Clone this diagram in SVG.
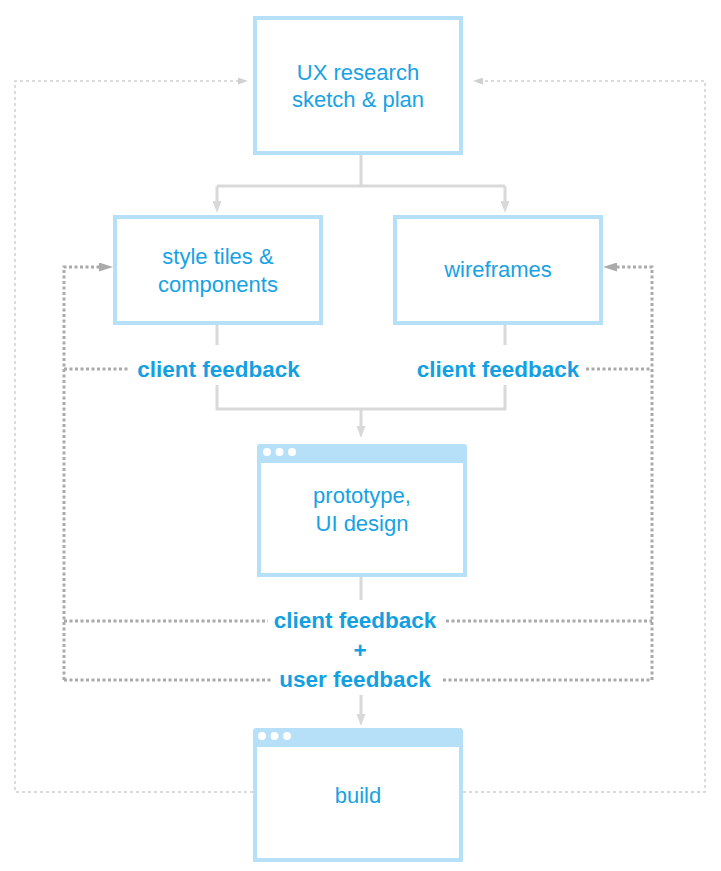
<svg xmlns="http://www.w3.org/2000/svg" width="721" height="871" viewBox="0 0 721 871">
<style>
.box{fill:#fff;stroke:#b5e0f8;stroke-width:4}
.bar{fill:#b5e0f8}
.dot{fill:#fff}
.t{font-family:"Liberation Sans",Arial,sans-serif;font-size:22px;fill:#17a2e4;text-anchor:middle}
.fb{font-family:"Liberation Sans",Arial,sans-serif;font-size:22.5px;font-weight:bold;fill:#13a0e2;text-anchor:middle}
.solid{fill:none;stroke:#d9d9d9;stroke-width:3}
.dark{fill:none;stroke:#aaaaaa;stroke-width:3;stroke-dasharray:3 2.5}
.light{fill:none;stroke:#cfcfcf;stroke-width:1.5;stroke-dasharray:3 3}
</style>
<defs>
<marker id="aSolid" markerUnits="userSpaceOnUse" markerWidth="12" markerHeight="9" refX="0" refY="4.5" orient="auto">
<path d="M0,0 L12,4.5 L0,9 z" fill="#d9d9d9"/>
</marker>
<marker id="aDark" markerUnits="userSpaceOnUse" markerWidth="14" markerHeight="9" refX="0" refY="4.5" orient="auto">
<path d="M0,0 L14,4.5 L0,9 z" fill="#aaaaaa"/>
</marker>
<marker id="aLight" markerUnits="userSpaceOnUse" markerWidth="10" markerHeight="7" refX="0" refY="3.5" orient="auto">
<path d="M0,0 L10,3.5 L0,7 z" fill="#d0d0d0"/>
</marker>
</defs>

<g id="connectors">
<path class="light" d="M253,792 H15 V81 H238" marker-end="url(#aLight)"/>
<path class="light" d="M463,792 H705 V81 H483" marker-end="url(#aLight)"/>
<path class="dark" d="M64,680 V267 H99" marker-end="url(#aDark)"/>
<path class="dark" d="M652,680 V267 H617" marker-end="url(#aDark)"/>
<path class="dark" d="M64,369 H130"/>
<path class="dark" d="M586,369 H652"/>
<path class="dark" d="M64,621 H268"/>
<path class="dark" d="M446,621 H652"/>
<path class="dark" d="M64,680 H272"/>
<path class="dark" d="M443,680 H652"/>
<path class="solid" d="M361,155 V186"/>
<path class="solid" d="M217,186 H505"/>
<path class="solid" d="M217,186 V201" marker-end="url(#aSolid)"/>
<path class="solid" d="M505,186 V201" marker-end="url(#aSolid)"/>
<path class="solid" d="M217,325 V345"/>
<path class="solid" d="M505,325 V345"/>
<path class="solid" d="M217,385 V409 H505 V385"/>
<path class="solid" d="M361,409 V426" marker-end="url(#aSolid)"/>
<path class="solid" d="M361,577 V600"/>
<path class="solid" d="M361,695 V714" marker-end="url(#aSolid)"/>
</g>

<g id="labels">
<text class="fb" x="218.5" y="377">client feedback</text>
<text class="fb" x="498" y="377">client feedback</text>
<text class="fb" x="355" y="628">client feedback</text>
<text class="fb" x="360" y="658">+</text>
<text class="fb" x="355" y="687">user feedback</text>
</g>

<g id="ux-research">
<rect class="box" x="255" y="18" width="206" height="135"/>
<text class="t" x="358" y="80">UX research</text>
<text class="t" x="358" y="107">sketch &amp; plan</text>
</g>

<g id="style-tiles">
<rect class="box" x="115" y="217" width="206" height="106"/>
<text class="t" x="218" y="264">style tiles &amp;</text>
<text class="t" x="218" y="292">components</text>
</g>

<g id="wireframes">
<rect class="box" x="395" y="217" width="206" height="106"/>
<text class="t" x="498" y="277">wireframes</text>
</g>

<g id="prototype">
<path class="bar" d="M257,462 V447 Q257,444 260,444 H464 Q467,444 467,447 V462 z"/>
<circle class="dot" cx="267" cy="452" r="4"/>
<circle class="dot" cx="279.5" cy="452" r="4"/>
<circle class="dot" cx="292" cy="452" r="4"/>
<rect class="box" x="259" y="461" width="206" height="114"/>
<text class="t" x="362" y="503">prototype,</text>
<text class="t" x="362" y="531">UI design</text>
</g>

<g id="build">
<path class="bar" d="M253,746 V731 Q253,728 256,728 H460 Q463,728 463,731 V746 z"/>
<circle class="dot" cx="262" cy="736" r="4"/>
<circle class="dot" cx="274.5" cy="736" r="4"/>
<circle class="dot" cx="287" cy="736" r="4"/>
<rect class="box" x="255" y="745" width="206" height="115"/>
<text class="t" x="358" y="803">build</text>
</g>
</svg>
